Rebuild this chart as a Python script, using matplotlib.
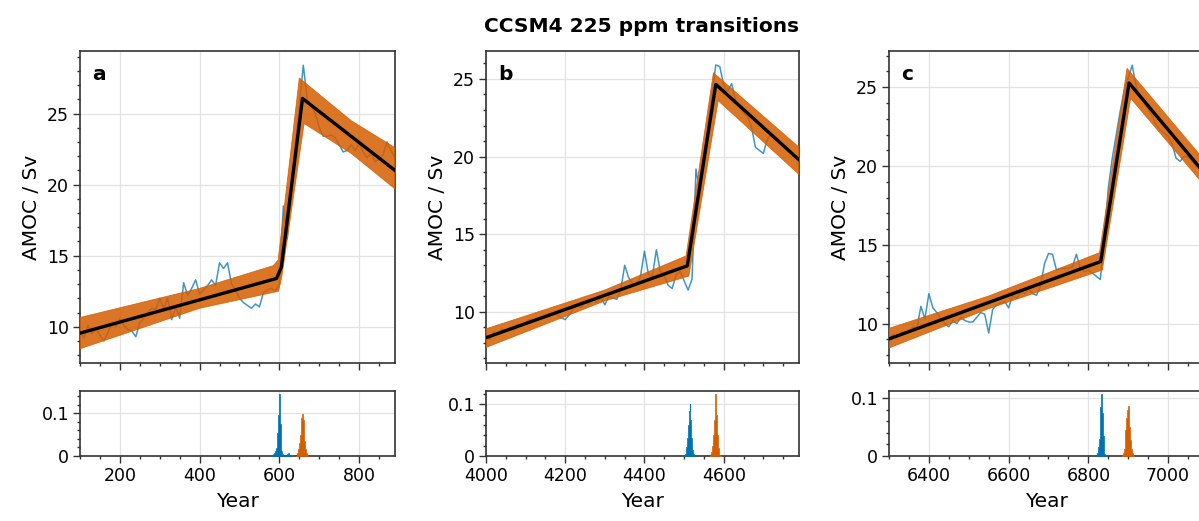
import numpy as np
import matplotlib
matplotlib.use("Agg")
import matplotlib.pyplot as plt
from matplotlib.ticker import MultipleLocator, FuncFormatter

# ---- data ----
letters = ["a", "b", "c"]
xlims = [(100, 890), (4000, 4790), (6300, 7090)]
ylims = [(7.45, 29.4), (6.7, 26.8), (7.5, 27.3)]

years_a = np.arange(100, 900, 10)
amoc_a = [9.7, 9.2, 10.1, 9.5, 9.9, 9.4, 9.0, 9.6, 10.2, 10.0,
          10.6, 10.1, 9.8, 9.7, 9.3, 10.3, 10.6, 11.0, 11.3, 11.2,
          12.0, 11.3, 12.0, 10.5, 11.4, 10.6, 13.1, 12.2, 12.7, 13.3,
          12.3, 12.6, 12.9, 13.3, 12.9, 14.5, 14.1, 14.5, 13.0, 12.6,
          12.0, 11.7, 11.5, 11.3, 11.6, 11.4, 12.4, 12.6, 12.7, 12.5,
          13.0, 18.5, 16.2, 20.0, 22.8, 25.5, 28.4, 26.0, 25.6, 25.0,
          24.0, 23.4, 23.4, 23.5, 23.3, 22.8, 22.3, 22.4, 22.8, 22.4,
          22.9, 22.3, 21.9, 22.2, 21.6, 21.8, 22.1, 23.0, 22.4, 21.9]

years_b = np.arange(4000, 4800, 10)
amoc_b = [8.4, 8.2, 8.7, 8.5, 8.9, 8.7, 9.0, 8.8, 9.2, 9.1,
          9.3, 9.5, 9.4, 9.6, 9.5, 9.8, 9.7, 9.9, 9.8, 9.6,
          9.5, 9.8, 10.2, 10.4, 10.3, 10.6, 10.5, 10.8, 10.6, 10.9,
          10.45, 11.0, 10.9, 10.8, 11.4, 13.0, 12.2, 11.8, 11.7, 12.3,
          13.9, 12.4, 12.3, 14.0, 12.6, 12.3, 11.7, 11.5, 12.4, 12.6,
          12.0, 11.4, 12.1, 19.2, 17.6, 19.5, 22.0, 24.0, 25.9, 25.8,
          24.6, 24.2, 24.7, 23.6, 23.3, 22.8, 22.6, 21.9, 20.6, 20.4,
          20.2, 21.1, 21.5, 21.3, 21.0, 20.8, 20.5, 20.3, 20.0, 19.8]

years_c = np.arange(6300, 7100, 10)
amoc_c = [9.1, 9.3, 9.1, 9.4, 9.5, 9.4, 9.8, 9.7, 11.1, 10.3,
          11.9, 11.0, 10.7, 10.3, 10.0, 9.8, 10.2, 10.0, 10.4, 10.2,
          10.1, 10.1, 10.4, 10.7, 10.6, 9.4, 10.9, 11.2, 11.3, 11.4,
          11.0, 11.8, 11.6, 12.0, 11.9, 12.2, 11.9, 11.8, 12.4, 13.8,
          14.45, 14.4, 13.4, 13.5, 13.5, 13.5, 13.6, 14.4, 13.5, 13.3,
          13.4, 13.2, 13.0, 12.8, 15.5, 18.6, 20.5, 22.0, 23.5, 24.8,
          25.6, 26.4, 25.0, 24.4, 24.0, 23.6, 23.2, 22.6, 22.3, 22.1,
          21.9, 21.4, 20.5, 20.3, 20.6, 20.6, 20.3, 20.0, 19.8, 19.6]

# piecewise-linear fit (black) and its uncertainty envelope (orange)
fit_x_a = [100, 593, 605, 658, 890]
fit_y_a = [9.55, 13.4, 14.2, 26.06, 21.0]
up_x_a = [100, 400, 585, 597, 650, 780, 890]
up_y_a = [10.65, 12.7, 14.3, 14.7, 27.5, 24.5, 22.6]
lo_x_a = [100, 400, 598, 606, 662, 780, 890]
lo_y_a = [8.45, 11.3, 12.5, 13.5, 24.3, 22.2, 19.7]

fit_x_b = [4000, 4508, 4580, 4790]
fit_y_b = [8.33, 12.96, 24.65, 19.79]
up_x_b = [4000, 4300, 4505, 4574, 4790]
up_y_b = [8.9, 11.4, 13.6, 25.4, 20.6]
lo_x_b = [4000, 4300, 4512, 4586, 4790]
lo_y_b = [7.7, 10.7, 12.3, 23.6, 18.85]

fit_x_c = [6300, 6831, 6902, 7090]
fit_y_c = [9.03, 13.94, 25.27, 19.58]
up_x_c = [6300, 6550, 6828, 6897, 7090]
up_y_c = [9.7, 11.75, 14.5, 26.2, 20.4]
lo_x_c = [6300, 6550, 6835, 6906, 7090]
lo_y_c = [8.45, 10.95, 13.4, 24.3, 18.8]

# transition-time histograms (bin centre, density), 2-year bins
hb_x_a = [582, 584, 586, 588, 590, 592, 594, 596, 598, 600, 602, 604, 606, 608, 610,
          612, 614, 616, 618, 620, 622, 624, 626]
hb_p_a = [0, 0.003, 0.005, 0.008, 0.012, 0.018, 0.03, 0.055, 0.095, 0.145, 0.075, 0.03, 0.012, 0.005, 0.002,
          0, 0, 0, 0, 0.004, 0.008, 0.003, 0]
ho_x_a = [642, 644, 646, 648, 650, 652, 654, 656, 658, 660, 662, 664, 666, 668, 670, 672]
ho_p_a = [0, 0.003, 0.008, 0.016, 0.03, 0.05, 0.072, 0.09, 0.098, 0.085, 0.06, 0.035, 0.016, 0.006, 0.002, 0]

hb_x_b = [4501, 4503, 4505, 4507, 4509, 4511, 4513, 4515, 4517, 4519, 4521, 4523, 4525, 4527]
hb_p_b = [0, 0.003, 0.008, 0.018, 0.035, 0.06, 0.088, 0.101, 0.07, 0.035, 0.012, 0.004, 0.001, 0]
ho_x_b = [4566, 4568, 4570, 4572, 4574, 4576, 4578, 4580, 4582, 4584, 4586, 4588, 4590, 4592]
ho_p_b = [0, 0.003, 0.008, 0.02, 0.04, 0.07, 0.1, 0.12, 0.08, 0.04, 0.015, 0.005, 0.002, 0]

hb_x_c = [6819, 6821, 6823, 6825, 6827, 6829, 6831, 6833, 6835, 6837, 6839, 6841, 6843, 6845]
hb_p_c = [0, 0.002, 0.006, 0.015, 0.03, 0.055, 0.085, 0.107, 0.075, 0.035, 0.012, 0.004, 0.001, 0]
ho_x_c = [6884, 6886, 6888, 6890, 6892, 6894, 6896, 6898, 6900, 6902, 6904, 6906, 6908, 6910, 6912, 6914]
ho_p_c = [0, 0.002, 0.005, 0.012, 0.025, 0.045, 0.065, 0.08, 0.086, 0.075, 0.05, 0.028, 0.012, 0.005, 0.002, 0]

series = [(years_a, amoc_a), (years_b, amoc_b), (years_c, amoc_c)]
fits = [(fit_x_a, fit_y_a), (fit_x_b, fit_y_b), (fit_x_c, fit_y_c)]
bands = [(up_x_a, up_y_a, lo_x_a, lo_y_a), (up_x_b, up_y_b, lo_x_b, lo_y_b),
         (up_x_c, up_y_c, lo_x_c, lo_y_c)]
hists = [(hb_x_a, hb_p_a, ho_x_a, ho_p_a), (hb_x_b, hb_p_b, ho_x_b, ho_p_b),
         (hb_x_c, hb_p_c, ho_x_c, ho_p_c)]

BLUE = "#0072b2"
ORANGE = "#d55e00"
plt.rcParams["font.family"] = ["DejaVu Sans"]

W, H = 1199, 521
fig = plt.figure(figsize=(W / 100, H / 100), dpi=100)
lefts = [80, 486, 889]
widths = [315, 313, 315]


def style(ax, labelsize=12.5):
    for s in ax.spines.values():
        s.set_linewidth(1.2)
        s.set_color("0.2")
    ax.tick_params(which="both", direction="out", top=False, right=False,
                   width=1.0, color="0.2", labelsize=labelsize, pad=3)
    ax.tick_params(which="major", length=5)
    ax.tick_params(which="minor", length=2.5)
    ax.grid(True, which="major", color="0.89", lw=0.9)
    ax.set_axisbelow(True)


for i in range(3):
    l, w = lefts[i], widths[i]
    ax = fig.add_axes([l / W, 1 - 363 / H, w / W, 312 / H])
    axh = fig.add_axes([l / W, 1 - 456 / H, w / W, 65 / H])

    yrs, amoc = series[i]
    ux, uy, lx, ly = bands[i]
    ax.plot(yrs, amoc, color=BLUE, alpha=0.75, lw=1.1, zorder=2)
    ax.fill(np.r_[ux, lx[::-1]], np.r_[uy, ly[::-1]], color=ORANGE,
            alpha=0.85, lw=0.6, zorder=3)
    ax.plot(fits[i][0], fits[i][1], color="black", lw=2.4, zorder=4)

    ax.set_xlim(*xlims[i])
    ax.set_ylim(*ylims[i])
    style(ax)
    ax.xaxis.set_major_locator(MultipleLocator(200))
    ax.xaxis.set_minor_locator(MultipleLocator(50))
    ax.yaxis.set_major_locator(MultipleLocator(5))
    ax.yaxis.set_minor_locator(MultipleLocator(1))
    ax.tick_params(labelbottom=False)
    ax.set_ylabel("AMOC / Sv", fontsize=14.5, labelpad=4)
    ax.text(0.04, 0.925, letters[i], transform=ax.transAxes, fontsize=14.5,
            fontweight="bold", va="center", ha="left")

    bx, bp, ox, op = hists[i]
    axh.fill_between(bx, bp, step="mid", color=BLUE, lw=0.5, zorder=3)
    axh.fill_between(ox, op, step="mid", color=ORANGE, lw=0.5, zorder=3)
    axh.set_xlim(*xlims[i])
    axh.set_ylim(0, max(max(bp), max(op)) * 1.05)
    style(axh)
    axh.xaxis.set_major_locator(MultipleLocator(200))
    axh.xaxis.set_minor_locator(MultipleLocator(50))
    axh.yaxis.set_major_locator(MultipleLocator(0.1))
    axh.yaxis.set_minor_locator(MultipleLocator(0.02))
    axh.yaxis.set_major_formatter(FuncFormatter(lambda v, p: "%g" % round(v, 3)))
    axh.set_xlabel("Year", fontsize=14.5, labelpad=5)

fig.text(642 / W, 1 - 27 / H, "CCSM4 225 ppm transitions", ha="center",
         va="center", fontsize=14.5, fontweight="bold")

fig.savefig("out.png", dpi=100)
